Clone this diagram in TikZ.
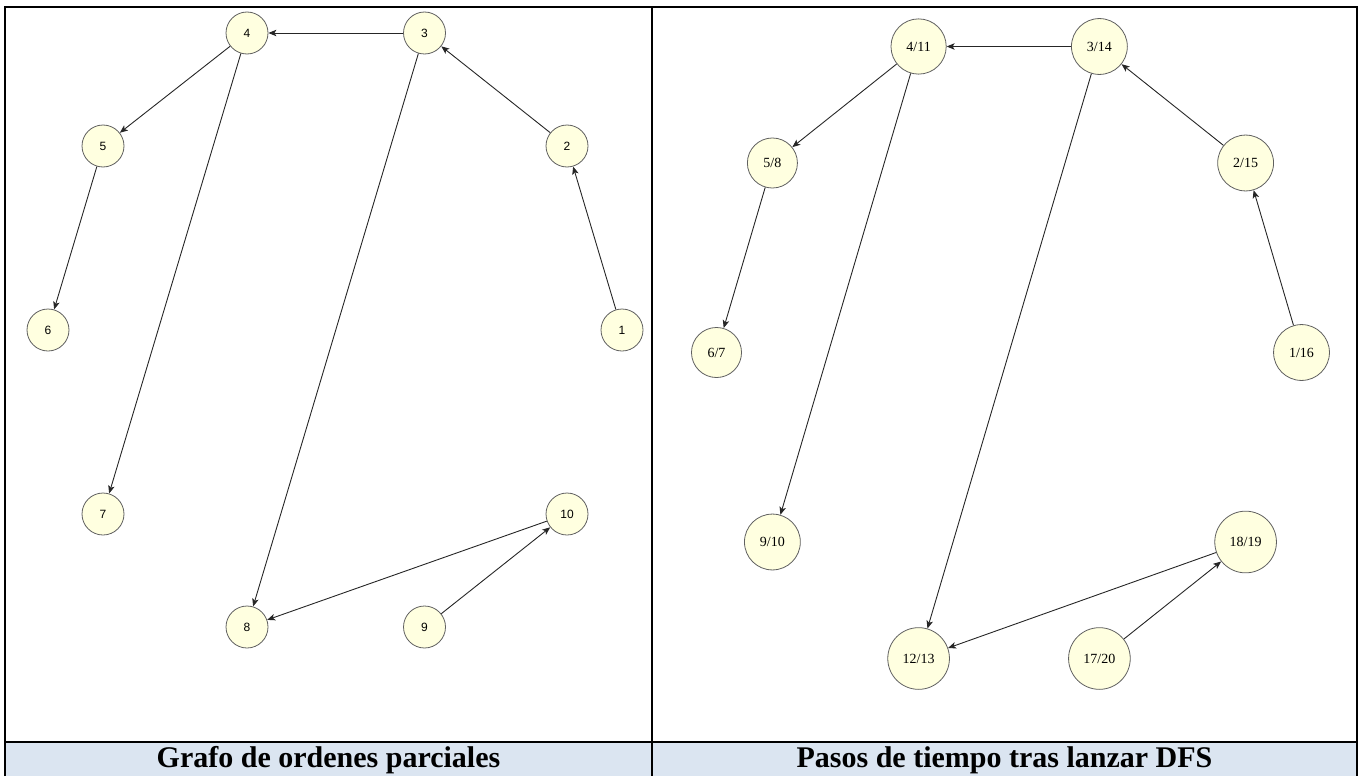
\documentclass[tikz,border=0pt]{standalone}
\usepackage{fontspec}
\setmainfont{Liberation Serif}
\newfontfamily\lsans{Liberation Sans}
\usetikzlibrary{arrows.meta}
\definecolor{lightyel}{HTML}{FFFFE0}
\definecolor{capbg}{HTML}{DBE5F1}
\definecolor{nodeline}{HTML}{606060}
\begin{document}
\begin{tikzpicture}[x=1pt,y=-1pt,
  ln/.style={draw=black!85, line width=0.9pt, -{Stealth[length=8pt,width=6.5pt,inset=2pt]}},
  lnode/.style={circle, draw=nodeline, line width=0.8pt, fill=lightyel, minimum size=42pt, inner sep=0pt, font=\lsans\fontsize{12}{13}\selectfont},
  rnode/.style={circle, draw=nodeline, line width=0.8pt, fill=lightyel, inner sep=10.8pt, font=\fontsize{14}{16}\selectfont},
  caption/.style={font=\bfseries\fontsize{30}{31}\selectfont, inner sep=0pt}
]
\useasboundingbox (0,0) rectangle (1359,776);
% table
\fill[capbg] (5,742) rectangle (1357,776);
\draw[line width=2pt] (5,776) -- (5,7) -- (1357,7) -- (1357,776);
\draw[line width=2pt] (652,7) -- (652,776);
\draw[line width=2pt] (5,742) -- (1357,742);
\node[caption] (capL) at (328.5,760) {Grafo de ordenes parciales};
\node[caption] (capR) at (1004.5,760) {Pasos de tiempo tras lanzar DFS};
% left graph
\node[lnode] (l1) at (622,330) {1};
\node[lnode] (l2) at (567,146) {2};
\node[lnode] (l3) at (424.5,33) {3};
\node[lnode] (l4) at (247,33) {4};
\node[lnode] (l5) at (103,146) {5};
\node[lnode] (l6) at (48,330) {6};
\node[lnode] (l7) at (103,514) {7};
\node[lnode] (l8) at (247,627) {8};
\node[lnode] (l9) at (424.5,627) {9};
\node[lnode] (l10) at (567,514) {10};
\draw[ln] (l3) -- (l4);
\draw[ln] (l4) -- (l5);
\draw[ln] (l4) -- (l7);
\draw[ln] (l5) -- (l6);
\draw[ln] (l3) -- (l8);
\draw[ln] (l2) -- (l3);
\draw[ln] (l1) -- (l2);
\draw[ln] (l10) -- (l8);
\draw[ln] (l9) -- (l10);
% right graph
\node[rnode] (r1) at (1301.5,352.5) {1/16};
\node[rnode] (r2) at (1245.6,163) {2/15};
\node[rnode] (r3) at (1099.4,46.5) {3/14};
\node[rnode] (r4) at (918.6,46.5) {4/11};
\node[rnode] (r5) at (772.4,163) {5/8};
\node[rnode] (r6) at (716.5,352.5) {6/7};
\node[rnode] (r9) at (772.4,542) {9/10};
\node[rnode] (r12) at (918.6,658.5) {12/13};
\node[rnode] (r17) at (1099.4,658.5) {17/20};
\node[rnode] (r18) at (1245.6,542) {18/19};
\draw[ln] (r3) -- (r4);
\draw[ln] (r4) -- (r5);
\draw[ln] (r4) -- (r9);
\draw[ln] (r5) -- (r6);
\draw[ln] (r3) -- (r12);
\draw[ln] (r2) -- (r3);
\draw[ln] (r1) -- (r2);
\draw[ln] (r18) -- (r12);
\draw[ln] (r17) -- (r18);
\end{tikzpicture}
\end{document}
